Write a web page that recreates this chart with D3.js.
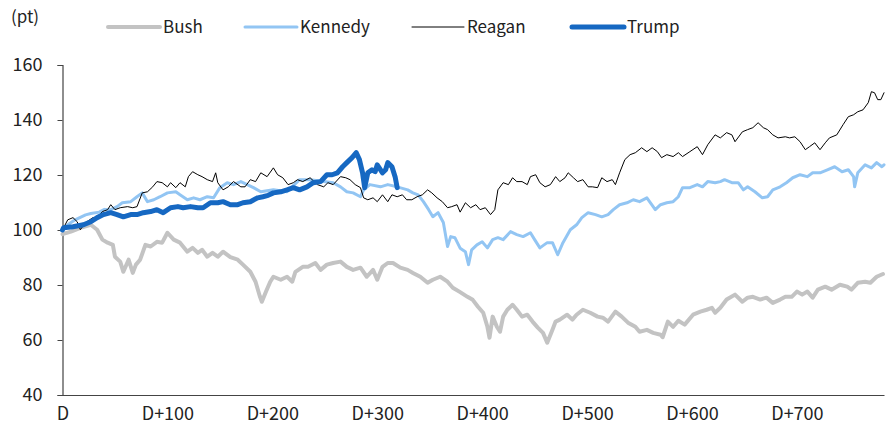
<!DOCTYPE html>
<html>
<head>
<meta charset="utf-8">
<script src="https://cdn.jsdelivr.net/npm/d3@7/dist/d3.min.js"></script>
<style>
  html, body { margin: 0; padding: 0; background: #fff; }
  svg { display: block; }
  text { font-family: "Noto Sans CJK KR", "Noto Sans", sans-serif; }
</style>
</head>
<body>
<svg id="chart" width="888" height="426"></svg>
<script>
// ---- Data (day offset, index value) ----
const seriesNames = ["Bush", "Kennedy", "Reagan", "Trump"];
const yTicks = [40, 60, 80, 100, 120, 140, 160];
const xTickDays = [0, 100, 200, 300, 400, 500, 600, 700];
const xTickLabels = ["D", "D+100", "D+200", "D+300", "D+400", "D+500", "D+600", "D+700"];
const unitLabel = "(pt)";

const bush = [
  [0,98.5],[8,99.4],[17,100.8],[27,101.9],[33,100.1],[38,96.5],[43,95.4],[48,94.6],[50,90.3],[55,88.5],
  [58,84.8],[63,89.2],[67,84.4],[70,87.4],[74,89.2],[79,94.6],[84,94],[90,95.7],[95,95.4],[100,99],
  [106,96.5],[112,95.4],[119,92.1],[124,93.5],[129,91.7],[133,92.8],[138,90.3],[143,91.7],[148,90.3],[153,92.1],
  [160,90.1],[167,89.2],[172,87.4],[179,84.8],[184,81.2],[188,76],[190,73.9],[194,77.6],[198,81.2],[201,83],
  [208,81.9],[214,83],[219,81.2],[222,84.8],[229,86.6],[234,86.6],[241,88],[246,85.5],[252,87.4],[258,88],
  [265,88.5],[271,86.6],[277,85.5],[284,86.3],[290,83],[296,85.5],[300,81.9],[305,86.6],[310,88],[315,88],
  [322,86.3],[329,85.5],[334,84.4],[341,83],[348,80.8],[353,81.9],[360,83],[367,81.2],[372,79],[379,77.4],
  [386,75.7],[391,74.6],[396,72.1],[401,69.9],[405,64.8],[407,60.8],[410,68.5],[414,64.8],[417,63],[420,68.5],
  [424,71],[429,72.8],[433,71],[438,68.5],[443,69.2],[448,66.7],[453,64.5],[458,62.6],[462,59],[467,63.7],
  [470,66.7],[474,67.4],[481,69.2],[486,67.4],[490,69.2],[496,71],[503,69.9],[510,68.5],[515,68.1],[520,66.7],
  [527,70.3],[533,68.5],[539,66.3],[546,64.8],[550,63],[557,63.7],[563,62.6],[570,61.9],[572,61],[577,66.7],
  [582,64.8],[587,67],[593,65.6],[601,69.2],[608,70.3],[614,71],[619,71.7],[622,69.9],[627,71.7],[633,74.7],
  [641,76.5],[648,73.9],[653,75.4],[658,75.7],[665,74.7],[671,75.4],[677,73.5],[684,74.7],[689,75.7],[695,75.7],
  [700,77.6],[705,76.5],[710,77.6],[715,75.4],[720,78.3],[727,79.4],[733,78.3],[741,80.1],[748,79.4],[752,78.3],
  [758,80.8],[765,81.2],[770,80.8],[776,83],[782,84]
];

const kennedy = [
  [0,100],[5,101.9],[12,103.7],[22,105.5],[27,106],[35,106.5],[40,107.5],[46,107.4],[52,108.5],[57,109.9],
  [65,110.3],[71,112.1],[76,113.5],[81,110.3],[87,111],[93,112.1],[100,113.5],[108,113.9],[112,112.8],[119,111],
  [125,111.7],[131,111],[138,112.1],[144,111.7],[150,115.4],[157,117.2],[163,116.5],[170,117.6],[176,116.5],[182,115.4],
  [189,113.9],[195,114.3],[201,114.6],[214,113.9],[226,118.3],[236,118.3],[249,117.6],[258,117.2],[265,115.7],[271,113.9],
  [277,113.5],[284,112.1],[287,114.6],[293,116.5],[303,115.7],[310,116.5],[319,115.7],[329,114.6],[334,113.5],[339,112.8],
  [344,110.3],[349,107.4],[353,104.8],[358,106.3],[363,102.7],[367,94],[370,97.6],[374,97.2],[379,93.4],[384,92.1],
  [387,87.4],[390,92.8],[395,94.6],[400,95.7],[405,93.5],[410,96.5],[415,97.2],[420,96.5],[427,99.4],[433,98.3],
  [439,97.6],[446,99],[450,96.5],[455,93.5],[462,95.4],[467,95.4],[472,91],[477,95.4],[484,100.1],[490,101.9],
  [495,104.5],[501,106.3],[508,105.6],[514,104.8],[520,105.6],[525,107.4],[531,109.2],[538,109.9],[544,111],[550,110.3],
  [557,111.7],[565,107.4],[570,109.2],[576,109.9],[582,110.3],[587,112.1],[591,115.4],[598,115.4],[605,116.5],[610,115.7],
  [615,117.6],[622,117.2],[627,117.6],[631,118.3],[638,117.2],[644,117.2],[649,114.6],[653,115.7],[660,113.9],[667,111.7],
  [672,112.1],[677,114.6],[684,115.7],[690,117.2],[696,119],[703,120.1],[710,119.4],[715,120.8],[722,120.8],[729,121.9],
  [736,123],[743,121.2],[749,121.9],[754,119.4],[755,115.7],[758,120.8],[765,123.7],[771,122.6],[776,124.5],[781,123],
  [783,123.7]
];

const reagan = [
  [0,100],[1,100.8],[5,103.7],[10,104.5],[14,103],[17,100.1],[22,102.7],[29,104.5],[33,104.5],[38,106.7],
  [43,107.4],[46,109.2],[50,107.4],[55,108.1],[62,108.5],[67,108.1],[71,108.5],[76,113.5],[81,113.9],[86,115.7],
  [90,117.6],[95,117.2],[100,115.7],[103,117.2],[108,115.4],[112,117.2],[117,115.7],[120,119.4],[124,121.2],[129,120.1],
  [133,119.4],[138,118.3],[143,117.6],[146,120.8],[148,117.2],[153,114.6],[158,115.7],[163,117.6],[170,115.7],[174,115.7],
  [179,118.3],[184,117.6],[189,120.8],[195,119.4],[201,122.6],[205,120.1],[210,119],[215,116.5],[220,117.2],[224,118.3],
  [229,117.6],[236,119],[243,116.5],[249,115.7],[253,117.2],[258,116.5],[265,119.4],[270,119],[274,118.3],[279,116.5],
  [284,115.4],[287,111.7],[291,111],[296,111.7],[300,110.3],[305,112.8],[310,110.3],[314,112.8],[319,112.1],[324,112.8],
  [328,111],[333,111],[338,112.1],[343,112.8],[348,114.6],[352,113.5],[357,111.7],[362,110.3],[367,108.1],[371,108.5],
  [376,109.2],[379,106.5],[384,109.9],[389,108.1],[394,109.2],[398,107.4],[403,108.1],[408,105.6],[412,107.4],[415,114.6],
  [420,117.2],[425,116.5],[429,119],[433,117.6],[438,117.6],[443,116.5],[446,119.4],[451,120.1],[455,117.2],[460,115.7],
  [465,116.5],[470,119.4],[474,117.6],[479,119],[482,120.8],[487,119],[491,117.6],[496,118.3],[501,115.7],[505,115.7],
  [510,115.4],[514,119],[519,117.6],[524,118.3],[527,116.5],[531,120.8],[536,125.6],[541,127.4],[546,128.1],[552,129.9],
  [557,128.5],[562,129.9],[567,128.5],[571,126.3],[576,127.4],[582,126.7],[587,128.1],[591,126.7],[598,128.5],[605,130.3],
  [610,127.4],[615,131],[622,134.6],[627,133.5],[633,135.4],[638,134.6],[641,132.1],[648,135.7],[653,136.5],[658,137.2],
  [663,139],[668,137.2],[672,136.5],[677,134.6],[682,133.5],[689,133.9],[693,133.5],[698,133.9],[703,132.1],[708,129.2],
  [712,130.3],[717,131.7],[722,129.2],[727,131.7],[731,133.5],[738,134.6],[744,138.3],[749,141.2],[754,141.9],[758,143],
  [763,143.7],[768,146.3],[771,150.3],[774,149.9],[777,147.4],[780,147.4],[783,149.9]
];

const trump = [
  [0,100],[1,100.8],[10,101.2],[20,101.9],[27,103],[33,104.5],[39,105.6],[46,106.3],[52,105.6],[58,104.8],
  [65,105.6],[71,105.6],[77,106.3],[84,106.7],[90,107.4],[96,106.3],[103,108.1],[110,108.5],[115,108.1],[122,108.5],
  [129,108.1],[134,108.1],[141,109.9],[148,109.9],[153,110.3],[160,109.2],[167,109.2],[172,109.9],[179,110.3],[186,111.7],
  [191,112.1],[196,112.6],[201,113.5],[208,113.9],[214,114.6],[220,115.4],[226,114.6],[233,115.7],[239,117.2],[246,117.6],
  [252,120.1],[257,120.1],[262,120.8],[267,123],[271,124.5],[276,126.3],[280,128.1],[283,125.6],[286,120.8],[288,115.4],
  [291,120.8],[295,121.9],[298,121.2],[300,123.7],[305,120.8],[308,121.9],[310,124.5],[314,123],[317,119.4],[319,115.4]
];

const seriesData = [bush, kennedy, reagan, trump];
const seriesColors = ["#c3c3c3", "#92c5f3", "#000000", "#1668c2"];
const seriesWidths = [4, 3, 1, 5];

// ---- Layout ----
const svg = d3.select("#chart");
const x = d3.scaleLinear().domain([0, 783]).range([62.5, 884]);
const y = d3.scaleLinear().domain([40, 160]).range([395, 65]);

const tickFont = "'Noto Sans CJK KR', 'Noto Sans', sans-serif";

// Y axis
const yAxis = d3.axisLeft(y).tickValues(yTicks).tickSize(5).tickPadding(15).tickFormat(d3.format("d"));
const gy = svg.append("g").attr("transform", "translate(62.5,0)").call(yAxis);
gy.select(".domain").attr("stroke", "#444").attr("stroke-width", 1.2);
gy.selectAll(".tick line").attr("stroke", "#444");
gy.selectAll(".tick text").attr("fill", "#222").style("font-size", "18px").style("font-family", tickFont);

// X axis
const xAxis = d3.axisBottom(x).tickValues(xTickDays).tickSize(0).tickPadding(12)
  .tickFormat((d, i) => xTickLabels[i]);
const gx = svg.append("g").attr("transform", "translate(0,395)").call(xAxis);
gx.select(".domain").attr("stroke", "#444").attr("stroke-width", 1.2);
gx.selectAll(".tick text").attr("fill", "#222").style("font-size", "18px").style("font-family", tickFont);

// Lines
const line = d3.line().x(d => x(d[0])).y(d => y(d[1]));
seriesData.forEach((data, i) => {
  svg.append("path")
    .datum(data)
    .attr("fill", "none")
    .attr("stroke", seriesColors[i])
    .attr("stroke-width", seriesWidths[i])
    .attr("stroke-linejoin", "round")
    .attr("stroke-linecap", "round")
    .attr("d", line);
});

// Unit label
svg.append("text").attr("x", 11).attr("y", 23).text(unitLabel)
  .attr("fill", "#222").style("font-size", "17px");

// Legend
const legendX = [108, 245, 412, 572];
const legend = svg.append("g");
seriesNames.forEach((name, i) => {
  const g = legend.append("g").attr("transform", `translate(${legendX[i]},27)`);
  g.append("line").attr("x1", 0).attr("x2", 52).attr("y1", 0).attr("y2", 0)
    .attr("stroke", seriesColors[i]).attr("stroke-width", seriesWidths[i]).attr("stroke-linecap", "round");
  g.append("text").attr("x", 55).attr("y", 0).attr("dy", "0.36em").text(name)
    .attr("fill", "#222").style("font-size", "17px");
});
</script>
</body>
</html>
